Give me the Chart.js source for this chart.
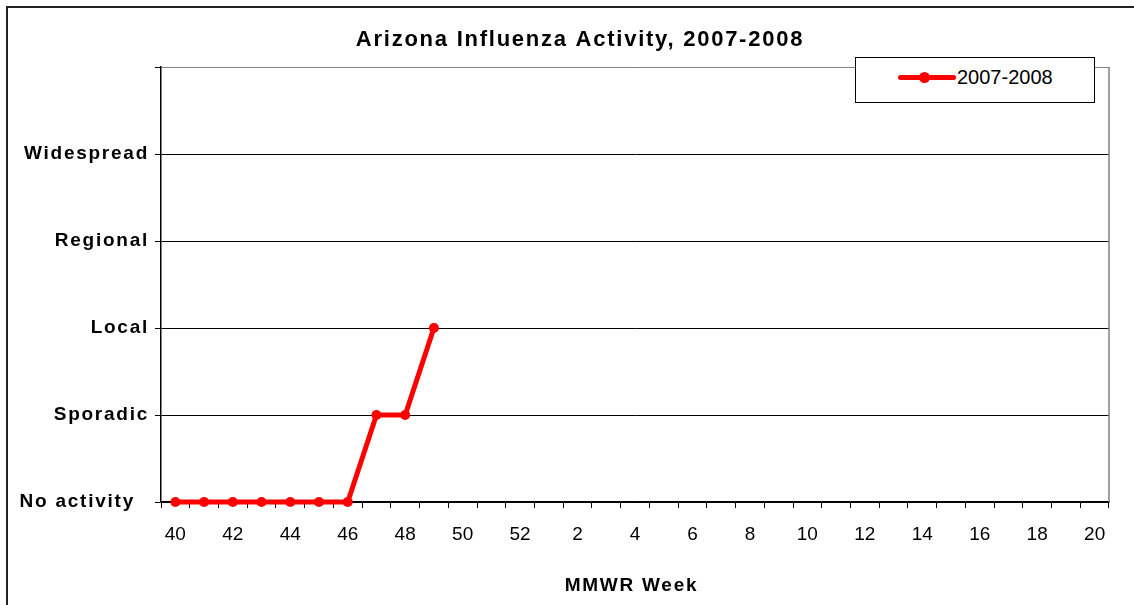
<!DOCTYPE html>
<html>
<head>
<meta charset="utf-8">
<script src="https://cdn.jsdelivr.net/npm/chart.js@4/dist/chart.umd.min.js"></script>
<style>
  html, body { margin: 0; padding: 0; background: #fff; }
  #wrap { position: relative; width: 1134px; height: 605px; overflow: hidden; font-family: 'Liberation Sans', Arial, sans-serif; }
  #c { position: absolute; left: 0; top: 0; }
  #frame { position: absolute; left: 6px; top: 6px; width: 1200px; height: 700px; border-top: 2px solid #222; border-left: 2px solid #222; pointer-events: none; }
  #legend { position: absolute; left: 855px; top: 57px; width: 240px; height: 46px; box-sizing: border-box; border: 1px solid #000; background: #fff; }
  #legend .ln { position: absolute; left: 42px; top: 17px; width: 58px; height: 5px; border-radius: 3px; }
  #legend .dot { position: absolute; left: 63px; top: 14px; width: 11px; height: 11px; border-radius: 50%; }
  #legend .tx { position: absolute; left: 101px; top: 7px; font-size: 20px; line-height: 24px; color: #000; }
</style>
</head>
<body>
<div id="wrap">
  <canvas id="c" width="1134" height="605"></canvas>
  <div id="frame"></div>
  <div id="legend"></div>
</div>
<script>
// ---- data ----
const chartTitle = 'Arizona Influenza Activity, 2007-2008';
const xAxisTitle = 'MMWR Week ';
const weeks = ['40','41','42','43','44','45','46','47','48','49','50','51','52',
               '1','2','3','4','5','6','7','8','9','10','11','12','13','14','15','16','17','18','19','20'];
const seriesLabel = '2007-2008';
const activity = [0, 0, 0, 0, 0, 0, 0, 1, 1, 2,
                  null, null, null, null, null, null, null, null, null, null, null,
                  null, null, null, null, null, null, null, null, null, null, null, null];
const levelLabels = ['No activity  ', 'Sporadic', 'Local', 'Regional', 'Widespread', ''];

// ---- bold text letter spacing (as in the original) ----
const canvas = document.getElementById('c');
const ctx2d = canvas.getContext('2d');
['fillText', 'strokeText', 'measureText'].forEach(function (m) {
  const orig = ctx2d[m];
  ctx2d[m] = function () {
    this.letterSpacing = /bold|700/.test(this.font) ? '1.75px' : '0px';
    return orig.apply(this, arguments);
  };
});

const plotBorder = {
  id: 'plotBorder',
  afterLayout(chart) {
    // centre the chart title over the outer frame rather than the full canvas
    if (chart.titleBlock) { chart.titleBlock.left = 51; }
  },
  beforeDatasetsDraw(chart) {
    const a = chart.chartArea, c = chart.ctx;
    c.save();
    c.strokeStyle = '#808080';
    c.lineWidth = 1.5;
    c.beginPath();
    c.moveTo(a.right, a.top);
    c.lineTo(a.right, a.bottom);
    c.stroke();
    c.restore();
  }
};

const chart = new Chart(ctx2d, {
  type: 'line',
  data: {
    labels: weeks,
    datasets: [{
      label: seriesLabel,
      data: activity,
      borderColor: '#ff0000',
      backgroundColor: '#ff0000',
      borderWidth: 5,
      pointRadius: 5,
      pointBorderWidth: 0,
      pointBackgroundColor: '#ff0000',
      tension: 0,
      clip: false
    }]
  },
  plugins: [plotBorder],
  options: {
    responsive: false,
    animation: false,
    events: [],
    layout: { padding: { left: 8, right: 25, top: 0, bottom: 0 } },
    plugins: {
      legend: { display: false },
      tooltip: { enabled: false },
      title: {
        display: true,
        text: chartTitle,
        color: '#000',
        font: { family: "'Liberation Sans', Arial, sans-serif", size: 22, weight: 'bold', lineHeight: 1.2 },
        padding: { top: 27, bottom: 13.6 }
      }
    },
    scales: {
      x: {
        type: 'category',
        offset: true,
        afterFit(scale) { scale.height = 103; },
        grid: {
          offset: true,
          drawOnChartArea: false,
          drawTicks: true,
          tickLength: 6,
          color: '#000',
          tickColor: '#000'
        },
        border: { color: '#000', width: 1.5 },
        ticks: {
          autoSkip: false,
          maxRotation: 0,
          minRotation: 0,
          padding: 15,
          color: '#000',
          font: { family: "'Liberation Sans', Arial, sans-serif", size: 19 },
          callback: function (val, index) { return index % 2 === 0 ? this.getLabelForValue(val) : ''; }
        },
        title: {
          display: true,
          text: xAxisTitle,
          color: '#000',
          font: { family: "'Liberation Sans', Arial, sans-serif", size: 19, weight: 'bold', lineHeight: 1.2 },
          padding: { top: 0, bottom: 8 }
        }
      },
      y: {
        min: 0,
        max: 5,
        afterFit(scale) { scale.width = 153; },
        grid: {
          drawTicks: true,
          tickLength: 6,
          color: (c) => (c.tick && c.tick.value === 5 ? '#808080' : '#000'),
          tickColor: '#000',
          lineWidth: 1
        },
        border: { color: '#000', width: 1.5 },
        ticks: {
          stepSize: 1,
          padding: 6,
          color: '#000',
          font: { family: "'Liberation Sans', Arial, sans-serif", size: 19, weight: 'bold' },
          callback: (v) => levelLabels[v]
        }
      }
    }
  }
});

// HTML legend built from the dataset
(function () {
  const ds = chart.data.datasets[0];
  const el = document.getElementById('legend');
  el.innerHTML = '<div class="ln" style="background:' + ds.borderColor + '"></div>' +
                 '<div class="dot" style="background:' + ds.pointBackgroundColor + '"></div>' +
                 '<div class="tx">' + ds.label + '</div>';
})();
</script>
</body>
</html>
